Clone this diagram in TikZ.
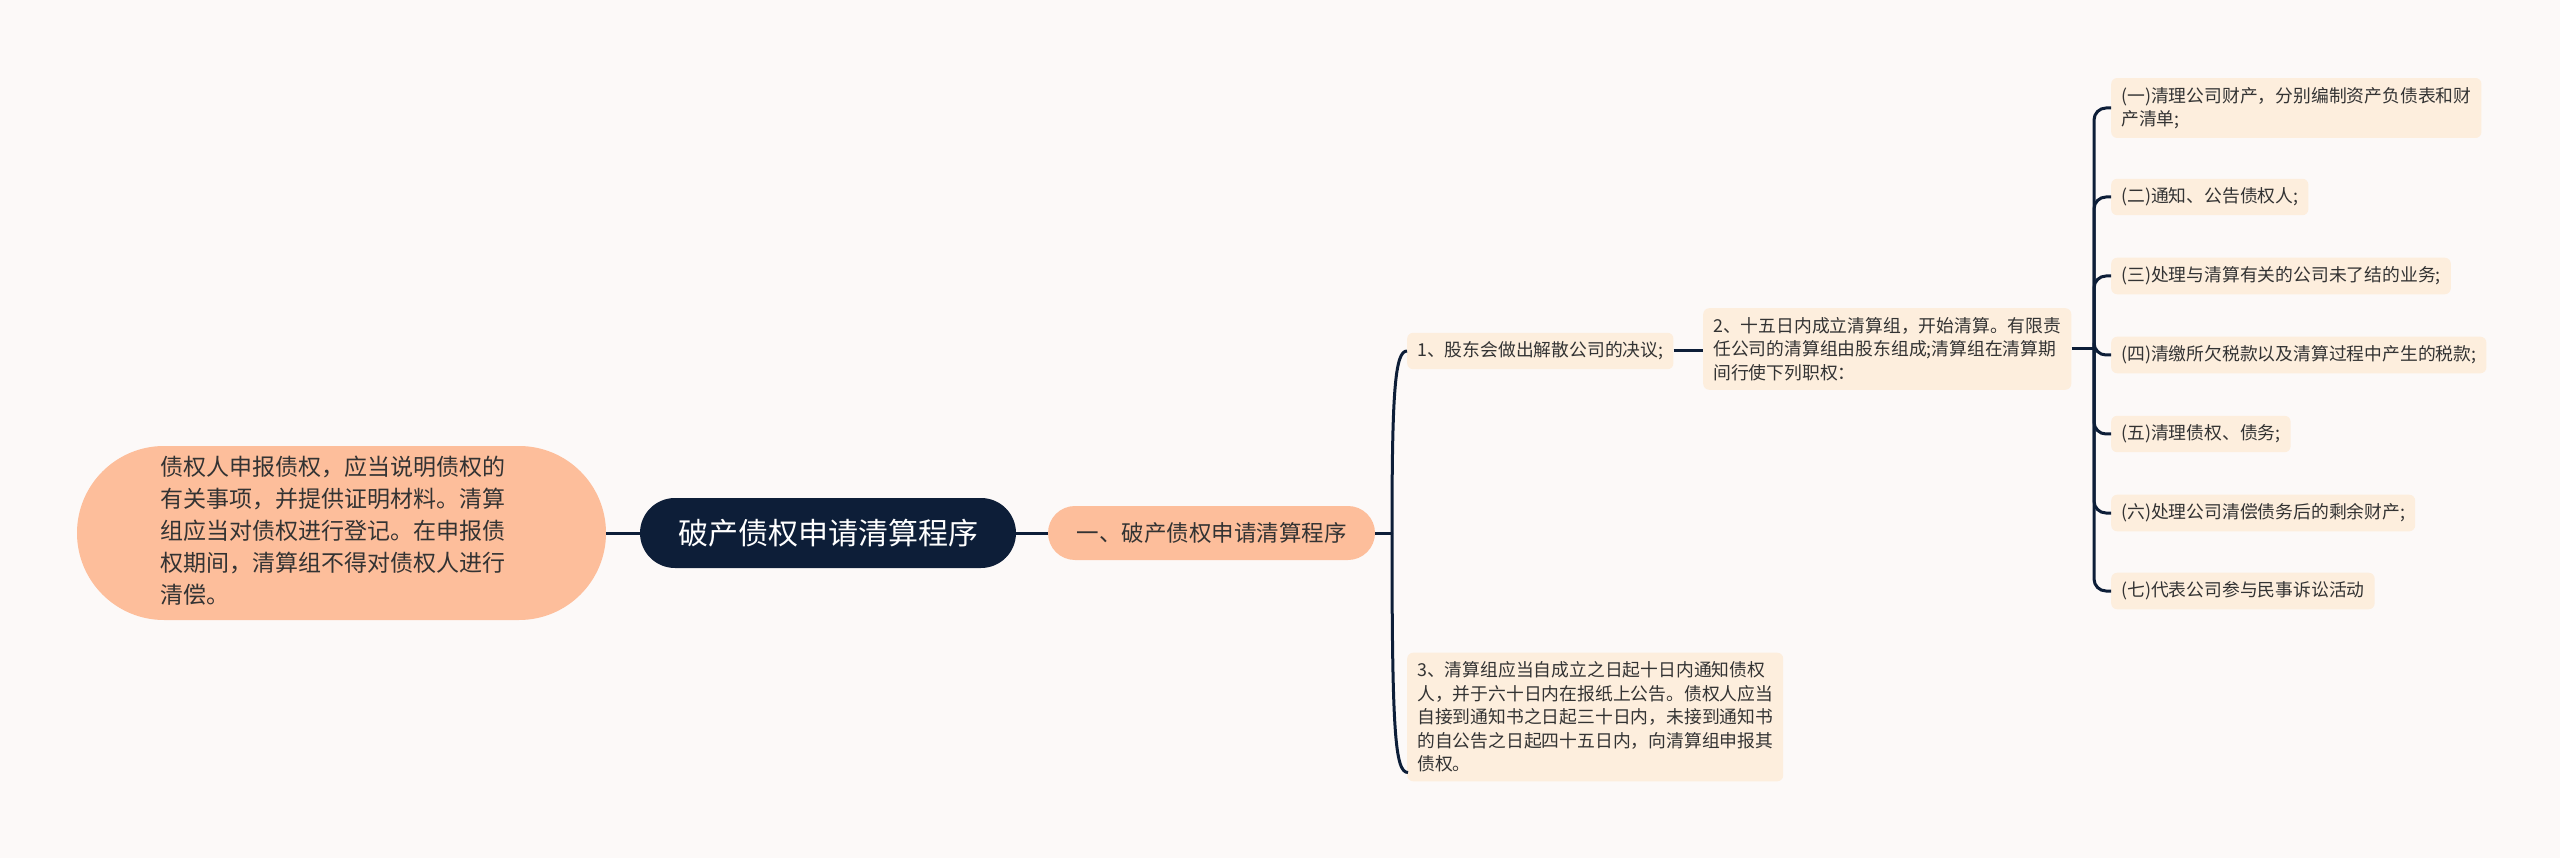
\documentclass[tikz,border=0pt]{standalone}
\usepackage{fontspec}
\usetikzlibrary{calc}
\setmainfont{Noto Sans CJK SC}
\definecolor{bg}{HTML}{FCF9F8}
\definecolor{navy}{HTML}{0D1E38}
\definecolor{peach}{HTML}{FDBE9B}
\definecolor{cream}{HTML}{FDEEDD}
\definecolor{txt}{HTML}{333333}
\tikzset{
  conn/.style={draw=navy, line width=3pt},
  leaf/.style={fill=cream, rounded corners=6pt, inner xsep=10pt, inner ysep=9pt,
    align=left, anchor=west, text=txt, font=\fontsize{17.8}{23.5}\selectfont},
}
\begin{document}
\begin{tikzpicture}[x=1pt,y=-1pt]
\useasboundingbox[fill=bg] (0,0) rectangle (2560,858);
% main nodes
\node[fill=peach, rounded corners=87pt, minimum width=529pt, minimum height=174pt,
  text=txt, font=\fontsize{23}{32}\selectfont] (left) at (341.5,533)
  {\begin{tabular}{@{}l@{\hspace{18pt}}}债权人申报债权，应当说明债权的\\有关事项，并提供证明材料。清算\\组应当对债权进行登记。在申报债\\权期间，清算组不得对债权人进行\\清偿。\end{tabular}};
\node[fill=navy, rounded corners=35pt, minimum width=376pt, minimum height=70pt,
  text=white, font=\fontsize{30}{36}\selectfont] (root) at (828,533) {破产债权申请清算程序};
\node[fill=peach, rounded corners=27pt, minimum width=327pt, minimum height=54pt,
  text=txt, font=\fontsize{22.5}{27}\selectfont] (yi) at (1211.5,533) {一、破产债权申请清算程序};
% second level
\node[leaf] (n1) at (1407,351) {1、股东会做出解散公司的决议;};
\node[leaf] (n2) at (1703,349) {2、十五日内成立清算组，开始清算。有限责\\任公司的清算组由股东组成;清算组在清算期\\间行使下列职权：};
\node[leaf] (n3) at (1407,717) {3、清算组应当自成立之日起十日内通知债权\\人，并于六十日内在报纸上公告。债权人应当\\自接到通知书之日起三十日内，未接到通知书\\的自公告之日起四十五日内，向清算组申报其\\债权。};
% third level
\node[leaf] (c1) at (2111,108) {(一)清理公司财产，分别编制资产负债表和财\\产清单;};
\node[leaf] (c2) at (2111,197) {(二)通知、公告债权人;};
\node[leaf] (c3) at (2111,276) {(三)处理与清算有关的公司未了结的业务;};
\node[leaf] (c4) at (2111,355) {(四)清缴所欠税款以及清算过程中产生的税款;};
\node[leaf] (c5) at (2111,434) {(五)清理债权、债务;};
\node[leaf] (c6) at (2111,513) {(六)处理公司清偿债务后的剩余财产;};
\node[leaf] (c7) at (2111,591) {(七)代表公司参与民事诉讼活动};
% junctions
\coordinate (j1) at (1392,533);
\coordinate (j2) at (2094,349);
\coordinate (e3) at ($(n3.south west)+(1,-9)$);
% connectors
\draw[conn] (left.east) -- (root.west);
\draw[conn] (root.east) -- (yi.west);
\draw[conn] (yi.east) -- (j1);
\draw[conn] (j1) .. controls ($(j1 |- n1.west)+(0,40)$) and ($(j1 |- n1.west)+(3,0)$) .. (n1.west);
\draw[conn] (j1) .. controls ($(j1 |- e3)+(0,-40)$) and ($(j1 |- e3)+(3,0)$) .. (e3);
\draw[conn] (n1.east) -- (n1.east -| n2.west);
\draw[conn] (n2.east) -- (j2);
\foreach \c in {c1,c2,c3,c4,c5,c6,c7}
  \draw[conn, rounded corners=12pt] (j2) -- (j2 |- \c.west) -- (\c.west);
\end{tikzpicture}
\end{document}
